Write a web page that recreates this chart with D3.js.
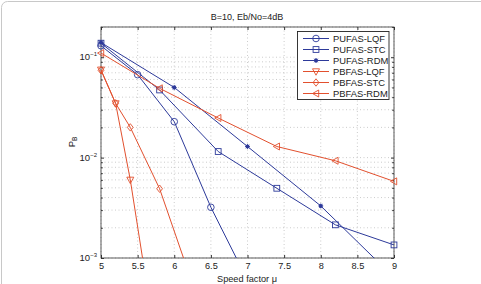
<!DOCTYPE html>
<html>
<head>
<meta charset="utf-8">
<script src="https://cdn.jsdelivr.net/npm/d3@7"></script>
<style>
  body { margin: 0; background: #fff; }
  svg text { font-family: "Liberation Sans", Arial, sans-serif; fill: #222; }
</style>
</head>
<body>
<div class="graph"></div>
<script>
// data
const seriesNames = ["PUFAS-LQF", "PUFAS-STC", "PUFAS-RDM", "PBFAS-LQF", "PBFAS-STC", "PBFAS-RDM"];
const lqfX = [5, 5.5, 6, 6.5, 7];
const lqfY = [0.13, 0.067, 0.0228, 0.0032, 0.0006];
const stcX = [5, 5.8, 6.6, 7.4, 8.2, 9];
const stcY = [0.138, 0.0472, 0.0115, 0.00495, 0.00214, 0.00135];
const rdmX = [5, 6, 7, 8, 9];
const rdmY = [0.14, 0.05, 0.0129, 0.0033, 0.00064];
const pbLqfX = [5, 5.2, 5.4, 5.6];
const pbLqfY = [0.075, 0.0346, 0.006, 0.0007];
const pbStcX = [5, 5.2, 5.4, 5.8, 6.2];
const pbStcY = [0.074, 0.0347, 0.02, 0.0049, 0.0007];
const pbRdmX = [5, 5.8, 6.6, 7.4, 8.2, 9];
const pbRdmY = [0.11, 0.049, 0.0248, 0.0129, 0.0093, 0.0058];
const xTicks = [5, 5.5, 6, 6.5, 7, 7.5, 8, 8.5, 9];
const yTicks = [1e-3, 1e-2, 1e-1];

function main() {
  //setting
  const width = 481;
  const height = 284;
  const left = 101, right = 394, top = 27, bottom = 258;
  const blue = "#2d3a9a";
  const red = "#e2502e";

  const xScale = d3.scaleLinear().domain([5, 9]).range([left, right]);
  const yScale = d3.scaleLog().domain([1e-3, 0.2]).range([bottom, top]);

  const svg = d3.select(".graph").append("svg")
    .attr("width", width)
    .attr("height", height);

  // outer frame of the figure
  svg.append("rect")
    .attr("x", 1.5).attr("y", 1.5)
    .attr("width", 520).attr("height", 320)
    .attr("rx", 6)
    .attr("fill", "none")
    .attr("stroke", "#c8c8c8");

  //grid
  const grid = svg.append("g");
  const minor = [];
  [1e-3, 1e-2, 1e-1].forEach(d => {
    for (let k = 1; k <= 9; k++) if (d * k <= 0.2) minor.push(d * k);
  });
  grid.selectAll("line.h").data(minor).enter().append("line")
    .attr("x1", left).attr("x2", right)
    .attr("y1", d => yScale(d)).attr("y2", d => yScale(d))
    .attr("stroke", "#aaa").attr("stroke-width", 0.6)
    .attr("stroke-dasharray", "1,2.5");
  grid.selectAll("line.v").data(xTicks).enter().append("line")
    .attr("x1", d => xScale(d)).attr("x2", d => xScale(d))
    .attr("y1", top).attr("y2", bottom)
    .attr("stroke", "#aaa").attr("stroke-width", 0.6)
    .attr("stroke-dasharray", "1,2.5");

  //axes box
  svg.append("rect")
    .attr("x", left).attr("y", top)
    .attr("width", right - left).attr("height", bottom - top)
    .attr("fill", "none").attr("stroke", "#333").attr("stroke-width", 0.8);

  const xAxis = d3.axisBottom(xScale).tickValues(xTicks).tickSizeInner(-3).tickSizeOuter(0)
    .tickPadding(4).tickFormat(d3.format("~g"));
  svg.append("g")
    .attr("transform", "translate(0," + bottom + ")")
    .call(xAxis)
    .call(g => g.select(".domain").remove())
    .call(g => g.selectAll("line").attr("stroke", "#333"))
    .call(g => g.selectAll("text").attr("font-size", 9.2).attr("fill", "#222"));
  svg.append("g")
    .attr("transform", "translate(0," + top + ")")
    .call(d3.axisTop(xScale).tickValues(xTicks).tickSizeInner(-3).tickSizeOuter(0).tickFormat(""))
    .call(g => g.select(".domain").remove())
    .call(g => g.selectAll("line").attr("stroke", "#333"));

  const yAxis = d3.axisLeft(yScale).tickValues(minor).tickSizeOuter(0).tickFormat("");
  svg.append("g")
    .attr("transform", "translate(" + left + ",0)")
    .call(yAxis)
    .call(g => g.select(".domain").remove())
    .call(g => g.selectAll(".tick line")
      .attr("x2", d => yTicks.includes(d) ? 3 : 1.8).attr("stroke", "#333"));
  svg.append("g")
    .attr("transform", "translate(" + right + ",0)")
    .call(d3.axisRight(yScale).tickValues(minor).tickSizeOuter(0).tickFormat(""))
    .call(g => g.select(".domain").remove())
    .call(g => g.selectAll(".tick line")
      .attr("x2", d => yTicks.includes(d) ? -3 : -1.8).attr("stroke", "#333"));

  // y tick labels 10^-n
  const yl = svg.append("g").selectAll("text").data(yTicks).enter().append("text")
    .attr("x", left - 4)
    .attr("y", d => yScale(d) + 3)
    .attr("text-anchor", "end")
    .attr("font-size", 9.5);
  yl.append("tspan").text("10");
  yl.append("tspan").attr("dy", -4).attr("font-size", 6)
    .text(d => "\u2212" + Math.round(-Math.log10(d)));

  //labels
  svg.append("text").attr("x", 247).attr("y", 20)
    .attr("text-anchor", "middle").attr("font-size", 9).text("B=10, Eb/No=4dB");
  svg.append("text").attr("x", 247).attr("y", 281.5)
    .attr("text-anchor", "middle").attr("font-size", 9.2).text("Speed factor \u03bc");
  const yLab = svg.append("text")
    .attr("transform", "translate(75,142) rotate(-90)")
    .attr("text-anchor", "middle").attr("font-size", 9.5);
  yLab.append("tspan").text("P");
  yLab.append("tspan").attr("dy", 2).attr("font-size", 6.5).text("B");

  //series
  const series = [
    { name: seriesNames[0], xs: lqfX, ys: lqfY, color: blue, marker: "circle" },
    { name: seriesNames[1], xs: stcX, ys: stcY, color: blue, marker: "square" },
    { name: seriesNames[2], xs: rdmX, ys: rdmY, color: blue, marker: "star" },
    { name: seriesNames[3], xs: pbLqfX, ys: pbLqfY, color: red, marker: "down" },
    { name: seriesNames[4], xs: pbStcX, ys: pbStcY, color: red, marker: "diamond" },
    { name: seriesNames[5], xs: pbRdmX, ys: pbRdmY, color: red, marker: "left" }
  ];

  function drawMarker(g, type, color) {
    if (type === "circle") {
      g.append("circle").attr("r", 3.3).attr("fill", "none").attr("stroke", color).attr("stroke-width", 0.9);
    } else if (type === "square") {
      g.append("rect").attr("x", -2.9).attr("y", -2.9).attr("width", 5.8).attr("height", 5.8)
        .attr("fill", "none").attr("stroke", color).attr("stroke-width", 0.9);
    } else if (type === "star") {
      g.append("circle").attr("r", 2).attr("fill", color);
      g.append("path").attr("d", "M-2.5,0H2.5M0,-2.5V2.5M-1.8,-1.8L1.8,1.8M-1.8,1.8L1.8,-1.8")
        .attr("stroke", color).attr("stroke-width", 0.8);
    } else if (type === "down") {
      g.append("path").attr("d", "M-3.5,-2.7L3.5,-2.7L0,3.7Z")
        .attr("fill", "none").attr("stroke", color).attr("stroke-width", 0.9);
    } else if (type === "diamond") {
      g.append("path").attr("d", "M0,-3.7L2.9,0L0,3.7L-2.9,0Z")
        .attr("fill", "none").attr("stroke", color).attr("stroke-width", 0.9);
    } else if (type === "left") {
      g.append("path").attr("d", "M-3.5,0L2.7,-3.5L2.7,3.5Z")
        .attr("fill", "none").attr("stroke", color).attr("stroke-width", 0.9);
    }
  }

  svg.append("clipPath").attr("id", "plotclip").append("rect")
    .attr("x", left - 6).attr("y", top).attr("width", right - left + 12).attr("height", bottom - top);

  const line = d3.line().x(d => xScale(d[0])).y(d => yScale(d[1]));
  const plot = svg.append("g").attr("clip-path", "url(#plotclip)");
  series.forEach(s => {
    const pts = s.xs.map((x, i) => [x, s.ys[i]]);
    plot.append("path").datum(pts).attr("d", line)
      .attr("fill", "none").attr("stroke", s.color).attr("stroke-width", 1);
    pts.filter(p => p[1] >= 1e-3).forEach(p => {
      const g = plot.append("g").attr("transform", "translate(" + xScale(p[0]) + "," + yScale(p[1]) + ")");
      drawMarker(g, s.marker, s.color);
    });
  });

  //legend
  const lg = svg.append("g");
  lg.append("rect").attr("x", 297.5).attr("y", 31.5).attr("width", 91.5).attr("height", 68)
    .attr("fill", "#fff").attr("stroke", "#222").attr("stroke-width", 0.9);
  series.forEach((s, i) => {
    const yy = 38.5 + i * 11;
    lg.append("line").attr("x1", 303).attr("x2", 329).attr("y1", yy).attr("y2", yy)
      .attr("stroke", s.color).attr("stroke-width", 1);
    const g = lg.append("g").attr("transform", "translate(316," + yy + ")");
    drawMarker(g, s.marker, s.color);
    lg.append("text").attr("x", 333).attr("y", yy + 3.4).attr("font-size", 9.4).text(s.name);
  });
}

main();
</script>
</body>
</html>
